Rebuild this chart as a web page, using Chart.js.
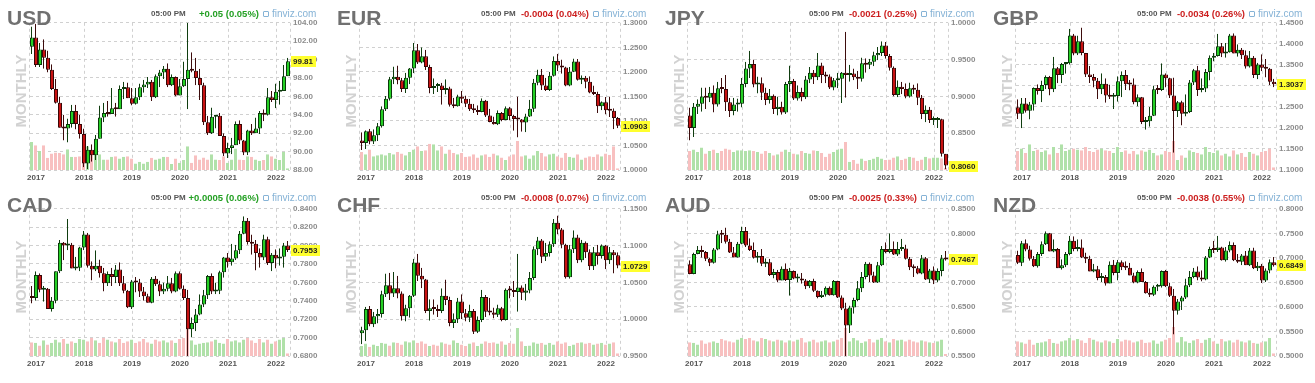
<!DOCTYPE html>
<html><head><meta charset="utf-8">
<script src="https://cdn.jsdelivr.net/npm/chart.js@4.4.1/dist/chart.umd.min.js"></script>
<style>
html,body{margin:0;padding:0;background:#fff;}
body{width:1315px;height:383px;overflow:hidden;position:relative;font-family:"Liberation Sans",Arial,sans-serif;}
.abs{position:absolute;white-space:nowrap;}
.tk{font-size:21px;font-weight:bold;color:#707070;line-height:21px;}
.mo{font-size:15px;font-weight:bold;color:#d2d2d2;line-height:15px;transform:translate(-50%,-50%) rotate(-90deg);}
.tm{font-size:8px;font-weight:bold;color:#555;line-height:10px;}
.ch{font-size:9.5px;font-weight:bold;line-height:11px;text-align:right;width:120px;}
.fv{font-size:10px;color:#86b3d6;line-height:12px;}
.ic{display:inline-block;width:4px;height:4px;border:1px solid #86b3d6;border-radius:1px;margin-right:3px;}
canvas{position:absolute;}
</style></head><body>
<script>
// ---- categories & tick labels ----
const months = ['2016-12',
'2017-01','2017-02','2017-03','2017-04','2017-05','2017-06','2017-07','2017-08','2017-09','2017-10','2017-11','2017-12',
'2018-01','2018-02','2018-03','2018-04','2018-05','2018-06','2018-07','2018-08','2018-09','2018-10','2018-11','2018-12',
'2019-01','2019-02','2019-03','2019-04','2019-05','2019-06','2019-07','2019-08','2019-09','2019-10','2019-11','2019-12',
'2020-01','2020-02','2020-03','2020-04','2020-05','2020-06','2020-07','2020-08','2020-09','2020-10','2020-11','2020-12',
'2021-01','2021-02','2021-03','2021-04','2021-05','2021-06','2021-07','2021-08','2021-09','2021-10','2021-11','2021-12',
'2022-01','2022-02','2022-03','2022-04'];
const yearLabels = ['2017','2018','2019','2020','2021','2022'];
const tickers = ['USD','EUR','JPY','GBP','CAD','CHF','AUD','NZD'];
const changeTexts = ['+0.05 (0.05%)','-0.0004 (0.04%)','-0.0021 (0.25%)','-0.0034 (0.26%)','+0.0005 (0.06%)','-0.0008 (0.07%)','-0.0025 (0.33%)','-0.0038 (0.55%)'];
const changeUp = [true,false,false,false,true,false,false,false];
const timeText = '05:00 PM';
const yMins = [88, 1.00, 0.80, 1.10, 0.68, 0.95, 0.55, 0.50];
const yMaxs = [104, 1.30, 1.00, 1.45, 0.84, 1.15, 0.85, 0.80];
const ySteps = [2, 0.05, 0.05, 0.05, 0.02, 0.05, 0.05, 0.05];
const yDecimals = [2,4,4,4,4,4,4,4];

// ---- series values: [open, high, low, close] per month ----
const usdOHLC = [[101.4,103.6,100.6,102.4],[102.4,103.9,99.2,99.4],[99.4,101.8,99.2,101.1],[101.1,102.2,99.0,100.2],[100.2,101.0,98.6,98.9],[98.9,99.5,96.7,96.8],[96.8,97.9,95.2,95.3],[95.3,96.0,92.6,92.6],[92.6,94.0,91.2,92.5],[92.5,93.6,91.0,93.0],
[93.0,95.1,92.6,94.4],[94.4,95.1,92.4,93.0],[93.0,94.0,91.4,91.9],[91.9,92.5,88.3,88.7],[88.7,90.6,88.1,90.2],[90.2,90.8,88.9,89.6],[89.6,91.8,89.1,91.4],[91.4,95.0,91.4,93.7],[93.7,95.3,93.2,94.2],[94.2,95.5,93.8,94.1],
[94.1,96.9,94.1,94.7],[94.7,95.3,93.8,94.6],[94.6,97.2,94.6,96.8],[96.8,97.6,95.7,97.0],[97.0,97.5,95.8,95.8],[95.8,96.9,95.0,95.2],[95.2,96.9,95.1,95.9],[95.9,97.4,95.6,97.0],[97.0,97.8,96.4,97.3],[97.3,98.1,96.9,97.6],
[97.6,97.8,95.5,95.9],[95.9,98.4,95.8,98.2],[98.2,98.9,97.0,98.6],[98.6,99.3,97.9,99.0],[99.0,99.6,97.0,97.2],[97.2,98.4,97.1,98.1],[98.1,98.2,96.0,96.1],[96.1,97.9,96.1,97.1],[97.1,99.8,97.0,97.9],[97.9,104.0,94.6,98.9],
[98.9,100.8,98.6,98.8],[98.8,100.2,97.2,98.0],[98.0,99.0,95.6,97.2],[97.2,97.5,92.9,93.2],[93.2,93.9,91.8,92.0],[92.0,94.8,91.9,93.8],[93.8,94.0,92.5,93.9],[93.9,94.2,91.7,91.7],[91.7,92.0,89.5,89.8],[89.8,91.0,89.3,90.4],
[90.4,91.5,89.7,90.7],[90.7,93.3,90.7,93.0],[93.0,93.4,90.8,91.2],[91.2,91.3,89.6,89.9],[89.9,92.4,89.6,92.3],[92.3,93.0,91.8,92.0],[92.0,93.7,92.0,92.5],[92.5,94.4,91.9,94.2],[94.2,94.6,93.3,94.0],[94.0,96.9,93.9,95.9],
[95.9,96.6,95.4,95.6],[95.6,97.4,94.7,96.5],[96.5,97.7,95.1,96.6],[96.6,99.4,96.6,98.2],[98.2,100.2,98.2,99.81]];
const usdVol = [85,75,58,75,37,50,53,52,48,63,40,40,42,68,72,58,48,48,32,32,40,42,35,40,42,35,20,25,20,25,37,32,35,40,40,18,35,22,30,72,22,45,32,38,32,48,32,30,42,22,32,65,32,30,42,40,32,28,30,48,42,35,30,55,5];

const eurOHLC = [[1.060,1.077,1.041,1.055],[1.055,1.081,1.043,1.079],[1.079,1.084,1.052,1.058],[1.058,1.083,1.053,1.071],[1.071,1.096,1.059,1.089],[1.089,1.130,1.086,1.124],[1.124,1.151,1.120,1.145],[1.145,1.190,1.141,1.185],[1.185,1.211,1.175,1.190],[1.190,1.213,1.174,1.183],
[1.183,1.188,1.159,1.165],[1.165,1.198,1.157,1.188],[1.188,1.208,1.175,1.207],[1.207,1.259,1.197,1.244],[1.244,1.257,1.216,1.219],[1.219,1.250,1.217,1.232],[1.232,1.245,1.204,1.210],[1.210,1.215,1.156,1.167],[1.167,1.187,1.155,1.171],[1.171,1.178,1.159,1.172],
[1.172,1.178,1.133,1.163],[1.163,1.185,1.154,1.166],[1.166,1.170,1.129,1.133],[1.133,1.147,1.126,1.130],[1.130,1.154,1.129,1.150],[1.150,1.161,1.136,1.145],[1.145,1.152,1.128,1.135],[1.135,1.145,1.120,1.124],[1.124,1.135,1.116,1.122],[1.122,1.132,1.112,1.118],
[1.118,1.146,1.117,1.141],[1.141,1.143,1.108,1.111],[1.111,1.125,1.097,1.098],[1.098,1.109,1.092,1.093],[1.093,1.122,1.091,1.116],[1.116,1.118,1.099,1.102],[1.102,1.130,1.101,1.126],[1.126,1.129,1.101,1.110],[1.110,1.113,1.080,1.104],[1.104,1.150,1.066,1.103],
[1.103,1.104,1.078,1.097],[1.097,1.115,1.077,1.109],[1.109,1.143,1.108,1.125],[1.125,1.186,1.118,1.178],[1.178,1.205,1.172,1.194],[1.194,1.206,1.163,1.172],[1.172,1.188,1.161,1.163],[1.163,1.200,1.161,1.192],[1.192,1.232,1.190,1.222],[1.222,1.237,1.202,1.213],
[1.213,1.225,1.196,1.209],[1.209,1.211,1.170,1.172],[1.172,1.210,1.170,1.200],[1.200,1.227,1.199,1.221],[1.221,1.226,1.182,1.184],[1.184,1.193,1.175,1.188],[1.188,1.192,1.166,1.180],[1.180,1.191,1.156,1.158],[1.158,1.172,1.153,1.155],[1.155,1.160,1.116,1.130],
[1.130,1.140,1.122,1.138],[1.138,1.149,1.113,1.122],[1.122,1.150,1.108,1.121],[1.121,1.126,1.083,1.106],[1.106,1.108,1.085,1.0903]];
const eurVol = [55,48,62,42,45,48,45,52,48,55,50,45,55,62,72,58,60,80,78,60,72,50,62,52,48,52,40,42,48,38,45,48,40,50,45,38,30,42,48,88,42,45,35,45,58,52,42,48,50,42,38,52,40,38,48,32,38,42,40,48,42,50,46,72,5];

const jpyOHLC = [[0.874,0.885,0.840,0.857],[0.857,0.891,0.845,0.886],[0.886,0.896,0.876,0.890],[0.890,0.912,0.879,0.900],[0.900,0.912,0.883,0.898],[0.898,0.913,0.892,0.905],[0.905,0.915,0.878,0.889],[0.889,0.920,0.886,0.911],[0.911,0.925,0.904,0.910],[0.910,0.929,0.880,0.892],
[0.892,0.898,0.872,0.880],[0.880,0.898,0.874,0.889],[0.889,0.897,0.879,0.890],[0.890,0.925,0.885,0.917],[0.917,0.947,0.912,0.938],[0.938,0.962,0.925,0.944],[0.944,0.950,0.912,0.916],[0.916,0.927,0.904,0.918],[0.918,0.926,0.895,0.905],[0.905,0.912,0.888,0.895],
[0.895,0.910,0.890,0.901],[0.901,0.903,0.876,0.883],[0.883,0.900,0.874,0.886],[0.886,0.893,0.875,0.878],[0.878,0.920,0.876,0.917],[0.917,0.942,0.906,0.921],[0.921,0.924,0.895,0.897],[0.897,0.915,0.894,0.906],[0.906,0.912,0.893,0.899],[0.899,0.928,0.896,0.923],
[0.923,0.940,0.918,0.932],[0.932,0.936,0.917,0.926],[0.926,0.959,0.922,0.942],[0.942,0.946,0.918,0.929],[0.929,0.934,0.918,0.927],[0.927,0.930,0.910,0.912],[0.912,0.925,0.908,0.922],[0.922,0.932,0.911,0.924],[0.924,0.933,0.891,0.932],[0.932,0.988,0.898,0.929],
[0.929,0.943,0.920,0.931],[0.931,0.938,0.922,0.926],[0.926,0.935,0.910,0.924],[0.924,0.953,0.920,0.945],[0.945,0.952,0.932,0.943],[0.943,0.951,0.937,0.947],[0.947,0.961,0.941,0.956],[0.956,0.967,0.949,0.959],[0.959,0.975,0.955,0.969],[0.969,0.974,0.951,0.955],
[0.955,0.958,0.935,0.939],[0.939,0.941,0.900,0.902],[0.902,0.922,0.899,0.913],[0.913,0.920,0.903,0.910],[0.910,0.918,0.897,0.900],[0.900,0.919,0.898,0.911],[0.911,0.916,0.903,0.909],[0.909,0.918,0.888,0.898],[0.898,0.902,0.869,0.876],[0.876,0.888,0.865,0.882],
[0.882,0.886,0.864,0.868],[0.868,0.873,0.861,0.868],[0.868,0.872,0.857,0.869],[0.869,0.870,0.818,0.822],[0.822,0.822,0.801,0.806]];
const jpyVol = [58,62,55,68,50,58,62,52,58,65,62,55,60,60,58,60,58,55,50,58,52,45,48,56,62,55,50,48,58,52,50,60,58,52,40,50,55,62,65,85,25,30,20,35,28,30,35,40,35,30,32,38,42,30,35,40,38,28,32,40,36,38,38,36,6];

const gbpOHLC = [[1.249,1.268,1.221,1.234],[1.234,1.271,1.199,1.258],[1.258,1.271,1.236,1.241],[1.241,1.262,1.220,1.256],[1.256,1.297,1.241,1.295],[1.295,1.304,1.279,1.288],[1.288,1.313,1.261,1.302],[1.302,1.325,1.292,1.321],[1.321,1.324,1.277,1.292],[1.292,1.369,1.285,1.342],
[1.342,1.345,1.306,1.326],[1.326,1.355,1.306,1.352],[1.352,1.355,1.329,1.354],[1.354,1.436,1.350,1.420],[1.420,1.424,1.372,1.377],[1.377,1.420,1.373,1.406],[1.406,1.439,1.372,1.378],[1.378,1.379,1.321,1.327],[1.327,1.347,1.307,1.321],[1.321,1.329,1.296,1.312],
[1.312,1.319,1.269,1.292],[1.292,1.330,1.280,1.305],[1.305,1.318,1.260,1.277],[1.277,1.303,1.269,1.274],[1.274,1.283,1.245,1.276],[1.276,1.323,1.262,1.311],[1.311,1.335,1.273,1.326],[1.326,1.338,1.290,1.304],[1.304,1.314,1.289,1.303],[1.303,1.318,1.256,1.261],
[1.261,1.280,1.251,1.273],[1.273,1.274,1.209,1.214],[1.214,1.226,1.196,1.216],[1.216,1.250,1.203,1.229],[1.229,1.301,1.228,1.292],[1.292,1.302,1.280,1.290],[1.290,1.354,1.287,1.327],[1.327,1.330,1.296,1.318],[1.318,1.320,1.271,1.277],[1.277,1.320,1.141,1.240],
[1.240,1.264,1.226,1.261],[1.261,1.265,1.206,1.234],[1.234,1.280,1.227,1.238],[1.238,1.314,1.235,1.308],[1.308,1.341,1.302,1.337],[1.337,1.348,1.276,1.290],[1.290,1.318,1.284,1.294],[1.294,1.340,1.285,1.333],[1.333,1.373,1.313,1.367],[1.367,1.378,1.358,1.371],
[1.371,1.424,1.369,1.394],[1.394,1.402,1.368,1.377],[1.377,1.402,1.367,1.380],[1.380,1.424,1.379,1.420],[1.420,1.425,1.378,1.377],[1.377,1.399,1.369,1.386],[1.386,1.390,1.364,1.373],[1.373,1.385,1.341,1.346],[1.346,1.383,1.343,1.367],[1.367,1.371,1.319,1.326],
[1.326,1.355,1.316,1.351],[1.351,1.375,1.335,1.343],[1.343,1.364,1.320,1.341],[1.341,1.343,1.302,1.310],[1.310,1.317,1.297,1.3037]];
const gbpVol = [58,65,52,78,58,62,55,60,48,70,52,78,58,62,65,62,60,70,58,55,62,65,60,58,52,70,55,60,50,58,48,60,56,62,52,45,48,58,55,88,30,45,38,60,55,52,48,70,55,52,60,45,50,42,60,48,52,40,55,50,45,55,58,65,8];

const cadOHLC = [[0.744,0.756,0.737,0.743],[0.743,0.772,0.740,0.768],[0.768,0.770,0.749,0.752],[0.752,0.756,0.739,0.753],[0.753,0.754,0.731,0.731],[0.731,0.744,0.728,0.740],[0.740,0.772,0.737,0.772],[0.772,0.806,0.770,0.803],[0.803,0.804,0.784,0.800],[0.800,0.829,0.795,0.801],
[0.801,0.803,0.775,0.775],[0.775,0.788,0.773,0.776],[0.776,0.799,0.772,0.798],[0.798,0.816,0.795,0.812],[0.812,0.814,0.776,0.778],[0.778,0.783,0.762,0.774],[0.774,0.795,0.772,0.778],[0.778,0.785,0.765,0.770],[0.770,0.776,0.750,0.759],[0.759,0.772,0.756,0.769],
[0.769,0.776,0.756,0.766],[0.766,0.779,0.759,0.774],[0.774,0.782,0.756,0.759],[0.759,0.767,0.748,0.751],[0.751,0.752,0.732,0.733],[0.733,0.763,0.731,0.761],[0.761,0.766,0.749,0.760],[0.760,0.764,0.744,0.750],[0.750,0.755,0.740,0.745],[0.745,0.748,0.738,0.738],
[0.738,0.766,0.737,0.764],[0.764,0.767,0.756,0.758],[0.758,0.762,0.745,0.750],[0.750,0.760,0.747,0.753],[0.753,0.767,0.750,0.759],[0.759,0.765,0.748,0.750],[0.750,0.772,0.749,0.770],[0.770,0.772,0.752,0.753],[0.753,0.757,0.741,0.743],[0.743,0.752,0.680,0.709],
[0.709,0.722,0.700,0.716],[0.716,0.731,0.707,0.725],[0.725,0.747,0.724,0.736],[0.736,0.752,0.733,0.746],[0.746,0.768,0.742,0.767],[0.767,0.770,0.747,0.750],[0.750,0.760,0.747,0.751],[0.751,0.773,0.747,0.771],[0.771,0.788,0.765,0.787],[0.787,0.792,0.776,0.782],
[0.782,0.802,0.778,0.786],[0.786,0.801,0.784,0.795],[0.795,0.816,0.791,0.813],[0.813,0.832,0.812,0.827],[0.827,0.830,0.801,0.804],[0.804,0.812,0.790,0.802],[0.802,0.806,0.773,0.792],[0.792,0.797,0.776,0.787],[0.787,0.812,0.784,0.807],[0.807,0.810,0.779,0.781],
[0.781,0.792,0.772,0.790],[0.790,0.796,0.775,0.786],[0.786,0.797,0.778,0.788],[0.788,0.803,0.776,0.800],[0.800,0.805,0.793,0.7953]];
const cadVol = [42,40,32,48,35,40,50,42,52,38,45,40,52,50,45,55,48,40,55,50,45,42,52,40,45,50,40,45,52,42,38,50,45,48,42,48,40,52,55,82,48,35,38,40,42,45,50,40,38,52,45,48,42,50,55,48,40,52,42,50,38,45,50,55,8];

const chfOHLC = [[0.981,0.990,0.966,0.985],[0.985,1.017,0.970,1.014],[1.014,1.018,0.990,0.993],[0.993,1.010,0.989,1.004],[1.004,1.014,0.994,1.007],[1.007,1.039,1.002,1.034],[1.034,1.062,1.030,1.046],[1.046,1.063,1.026,1.035],[1.035,1.064,1.030,1.042],[1.042,1.059,1.028,1.035],
[1.035,1.038,0.998,1.004],[1.004,1.020,0.997,1.015],[1.015,1.033,1.002,1.032],[1.032,1.082,1.030,1.077],[1.077,1.089,1.052,1.059],[1.059,1.070,1.042,1.054],[1.054,1.055,1.008,1.011],[1.011,1.027,0.998,1.015],[1.015,1.027,1.006,1.014],[1.014,1.020,1.003,1.011],
[1.011,1.042,1.008,1.032],[1.032,1.054,1.019,1.026],[1.026,1.031,0.990,0.995],[0.995,1.008,0.988,1.000],[1.000,1.029,0.995,1.024],[1.024,1.034,1.000,1.008],[1.008,1.014,0.997,1.002],[1.002,1.020,0.996,1.011],[1.011,1.014,0.980,0.983],[0.983,1.004,0.981,0.999],
[0.999,1.040,0.996,1.030],[1.030,1.033,1.003,1.010],[1.010,1.029,1.005,1.009],[1.009,1.016,1.001,1.006],[1.006,1.020,1.003,1.015],[1.015,1.017,0.997,0.999],[0.999,1.042,0.998,1.040],[1.040,1.045,1.028,1.039],[1.039,1.052,1.030,1.037],[1.037,1.089,1.010,1.043],
[1.043,1.046,1.026,1.036],[1.036,1.048,1.025,1.039],[1.039,1.064,1.035,1.056],[1.056,1.099,1.053,1.095],[1.095,1.112,1.087,1.107],[1.107,1.109,1.076,1.085],[1.085,1.104,1.079,1.090],[1.090,1.106,1.085,1.102],[1.102,1.136,1.098,1.131],[1.131,1.141,1.115,1.122],
[1.122,1.124,1.096,1.101],[1.101,1.103,1.055,1.057],[1.057,1.101,1.055,1.095],[1.095,1.121,1.090,1.111],[1.111,1.115,1.076,1.080],[1.080,1.108,1.077,1.104],[1.104,1.106,1.083,1.091],[1.091,1.095,1.067,1.072],[1.072,1.098,1.067,1.091],[1.091,1.101,1.074,1.086],
[1.086,1.102,1.082,1.100],[1.100,1.101,1.068,1.080],[1.080,1.098,1.075,1.091],[1.091,1.094,1.062,1.087],[1.087,1.091,1.069,1.0729]];
const chfVol = [30,38,28,35,30,40,38,32,42,40,35,45,42,48,40,45,38,30,35,32,42,38,35,48,40,35,30,38,42,30,38,45,40,42,38,45,35,40,38,85,45,30,32,42,38,40,35,40,35,45,38,42,30,35,40,42,38,40,35,38,40,35,38,42,8];

const audOHLC = [[0.737,0.745,0.716,0.717],[0.717,0.761,0.716,0.758],[0.758,0.774,0.757,0.766],[0.766,0.775,0.750,0.762],[0.762,0.764,0.743,0.748],[0.748,0.751,0.733,0.740],[0.740,0.770,0.738,0.767],[0.767,0.806,0.765,0.798],[0.798,0.807,0.780,0.797],[0.797,0.812,0.779,0.783],
[0.783,0.789,0.760,0.761],[0.761,0.772,0.751,0.751],[0.751,0.783,0.750,0.779],[0.779,0.814,0.777,0.805],[0.805,0.813,0.772,0.775],[0.775,0.790,0.764,0.766],[0.766,0.782,0.748,0.750],[0.750,0.762,0.740,0.754],[0.754,0.768,0.733,0.738],[0.738,0.749,0.731,0.741],
[0.741,0.748,0.713,0.715],[0.715,0.728,0.708,0.721],[0.721,0.726,0.700,0.704],[0.704,0.733,0.704,0.728],[0.728,0.739,0.703,0.705],[0.705,0.730,0.673,0.723],[0.723,0.725,0.706,0.708],[0.708,0.718,0.700,0.708],[0.708,0.719,0.697,0.704],[0.704,0.707,0.686,0.692],
[0.692,0.705,0.688,0.703],[0.703,0.708,0.680,0.683],[0.683,0.684,0.667,0.670],[0.670,0.683,0.668,0.675],[0.675,0.692,0.671,0.689],[0.689,0.692,0.673,0.674],[0.674,0.705,0.673,0.703],[0.703,0.704,0.668,0.669],[0.669,0.674,0.643,0.647],[0.647,0.659,0.550,0.612],
[0.612,0.653,0.597,0.649],[0.649,0.669,0.636,0.664],[0.664,0.703,0.661,0.688],[0.688,0.721,0.680,0.711],[0.711,0.742,0.706,0.738],[0.738,0.741,0.701,0.714],[0.714,0.722,0.699,0.700],[0.700,0.742,0.699,0.735],[0.735,0.774,0.733,0.768],[0.768,0.782,0.759,0.762],
[0.762,0.800,0.759,0.768],[0.768,0.784,0.756,0.757],[0.757,0.783,0.754,0.768],[0.768,0.789,0.764,0.769],[0.769,0.777,0.746,0.748],[0.748,0.752,0.725,0.731],[0.731,0.737,0.711,0.729],[0.729,0.734,0.716,0.718],[0.718,0.756,0.716,0.749],[0.749,0.752,0.705,0.706],
[0.706,0.728,0.699,0.724],[0.724,0.733,0.696,0.704],[0.704,0.729,0.700,0.723],[0.723,0.756,0.712,0.749],[0.749,0.764,0.744,0.7467]];
const audVol = [42,40,35,48,38,42,45,40,52,48,45,42,50,55,52,55,48,45,55,52,48,45,50,48,42,48,45,50,55,42,45,50,42,45,48,42,45,50,55,85,45,55,48,40,45,52,42,50,55,45,42,52,48,50,45,50,45,42,48,45,42,40,45,50,6];

const nzdOHLC = [[0.706,0.715,0.687,0.690],[0.690,0.735,0.683,0.730],[0.730,0.738,0.713,0.717],[0.717,0.725,0.694,0.698],[0.698,0.704,0.681,0.683],[0.683,0.712,0.680,0.708],[0.708,0.734,0.704,0.728],[0.728,0.754,0.726,0.750],[0.750,0.751,0.715,0.713],[0.713,0.738,0.711,0.718],
[0.718,0.720,0.680,0.679],[0.679,0.697,0.676,0.685],[0.685,0.712,0.681,0.708],[0.708,0.745,0.705,0.735],[0.735,0.744,0.713,0.718],[0.718,0.738,0.713,0.721],[0.721,0.738,0.699,0.701],[0.701,0.711,0.689,0.698],[0.698,0.705,0.673,0.672],[0.672,0.688,0.670,0.677],
[0.677,0.684,0.654,0.659],[0.659,0.669,0.651,0.661],[0.661,0.665,0.643,0.648],[0.648,0.693,0.648,0.686],[0.686,0.696,0.664,0.669],[0.669,0.696,0.654,0.691],[0.691,0.695,0.675,0.681],[0.681,0.693,0.675,0.680],[0.680,0.690,0.664,0.664],[0.664,0.670,0.648,0.650],
[0.650,0.675,0.648,0.671],[0.671,0.679,0.654,0.651],[0.651,0.653,0.627,0.628],[0.628,0.638,0.620,0.625],[0.625,0.644,0.622,0.641],[0.641,0.647,0.632,0.642],[0.642,0.675,0.639,0.673],[0.673,0.676,0.640,0.642],[0.642,0.650,0.620,0.623],[0.623,0.637,0.544,0.592],
[0.592,0.616,0.584,0.611],[0.611,0.623,0.594,0.619],[0.619,0.658,0.616,0.644],[0.644,0.673,0.640,0.661],[0.661,0.680,0.658,0.672],[0.672,0.683,0.654,0.660],[0.660,0.675,0.652,0.656],[0.656,0.704,0.654,0.701],[0.701,0.723,0.699,0.718],[0.718,0.735,0.710,0.716],
[0.716,0.745,0.712,0.721],[0.721,0.723,0.694,0.695],[0.695,0.722,0.692,0.715],[0.715,0.734,0.711,0.726],[0.726,0.732,0.693,0.695],[0.695,0.708,0.689,0.692],[0.692,0.708,0.685,0.705],[0.705,0.714,0.686,0.685],[0.685,0.720,0.683,0.715],[0.715,0.721,0.677,0.679],
[0.679,0.692,0.673,0.684],[0.684,0.688,0.649,0.654],[0.654,0.679,0.651,0.674],[0.674,0.697,0.668,0.691],[0.691,0.702,0.682,0.6849]];
const nzdVol = [45,42,38,50,35,40,42,45,52,40,38,45,48,55,48,52,48,40,55,50,45,42,48,45,40,52,45,50,48,42,45,50,40,42,48,38,45,50,55,88,42,58,45,40,48,52,40,50,55,45,38,52,45,48,42,50,45,42,48,40,38,42,45,55,8];

const ohlcList = [usdOHLC, eurOHLC, jpyOHLC, gbpOHLC, cadOHLC, chfOHLC, audOHLC, nzdOHLC];
const volList = [usdVol, eurVol, jpyVol, gbpVol, cadVol, chfVol, audVol, nzdVol];

// ---- layout ----
const panelX = [0, 330, 658, 986];
const panelY = [0, 186];
const headerY = [14, 198];
const FONT = '"Liberation Sans", Arial, sans-serif';
Chart.defaults.font.family = FONT;

const framePlugin = {
  id: 'frame',
  beforeDatasetsDraw(chart) {
    const {ctx, chartArea: a} = chart;
    ctx.save();
    ctx.strokeStyle = '#d0d0d0'; ctx.lineWidth = 1; ctx.setLineDash([3, 3]);
    ctx.beginPath();
    ctx.moveTo(Math.round(a.left) - 0.5, a.top); ctx.lineTo(Math.round(a.left) - 0.5, a.bottom);
    ctx.moveTo(Math.round(a.right) + 0.5, a.top); ctx.lineTo(Math.round(a.right) + 0.5, a.bottom);
    ctx.stroke();
    ctx.restore();
  }
};
const pricePlugin = {
  id: 'price',
  afterDraw(chart, args, opts) {
    const {ctx, chartArea: a} = chart;
    const y = chart.scales.y.getPixelForValue(opts.value);
    ctx.save();
    ctx.font = 'bold 8px ' + FONT;
    const w = Math.ceil(ctx.measureText(opts.text).width) + 4;
    const x = Math.round(a.right) + 1;
    ctx.fillStyle = '#ffff2e';
    ctx.fillRect(x, Math.round(y) - 5, w, 11);
    ctx.fillStyle = '#222';
    ctx.textBaseline = 'middle';
    ctx.fillText(opts.text, x + 2, Math.round(y) + 0.5);
    ctx.restore();
  }
};

function addDiv(cls, text, left, top, color) {
  const d = document.createElement('div');
  d.className = 'abs ' + cls;
  d.textContent = text;
  d.style.left = left + 'px';
  d.style.top = top + 'px';
  if (color) d.style.color = color;
  document.body.appendChild(d);
  return d;
}

tickers.forEach((name, k) => {
  const row = Math.floor(k / 4), col = k % 4;
  const px = panelX[col], py = panelY[row], hy = headerY[row];

  const cv = document.createElement('canvas');
  cv.width = 310; cv.height = 169;
  cv.style.left = (px + 20) + 'px';
  cv.style.top = (py + 15) + 'px';
  document.body.appendChild(cv);

  addDiv('tk', name, px + 7, py + 7 + row);
  addDiv('mo', 'MONTHLY', px + 20, py + 90.5);
  addDiv('tm', timeText, px + 151, hy - 5);
  addDiv('ch', changeTexts[k], px + 259 - 120, hy - 6, changeUp[k] ? '#24a024' : '#cc1f1f');
  const fv = document.createElement('div');
  fv.className = 'abs fv';
  fv.style.left = (px + 263) + 'px';
  fv.style.top = (hy - 6) + 'px';
  const ic = document.createElement('span'); ic.className = 'ic';
  fv.appendChild(ic);
  fv.appendChild(document.createTextNode('finviz.com'));
  document.body.appendChild(fv);

  const ohlc = ohlcList[k];
  const up = ohlc.map(d => d[3] >= d[0]);
  const bodies = ohlc.map(d => [d[0], d[3]]);
  const wicks = ohlc.map(d => [Math.min(d[2], d[0], d[3]), Math.max(d[1], d[0], d[3])]);
  const dec = yDecimals[k];
  const last = ohlc[ohlc.length - 1][3];
  const clear = 'rgba(0,0,0,0)';

  new Chart(cv, {
    type: 'bar',
    data: {
      labels: months,
      datasets: [
        {data: bodies, yAxisID: 'y', grouped: false, barThickness: 4, inflateAmount: 0,
         backgroundColor: up.map(u => u ? '#25d025' : '#c81212'),
         borderColor: up.map(u => u ? '#0c3a0c' : '#3a0707'),
         borderWidth: 1, borderSkipped: false, minBarLength: 2, order: 0},
        {data: wicks, yAxisID: 'y', grouped: false, barThickness: 2, inflateAmount: 0,
         backgroundColor: clear,
         borderColor: up.map(u => u ? '#0f3d0f' : '#3d0c0c'),
         borderWidth: {left: 1, right: 0, top: 0, bottom: 0}, borderSkipped: false, order: 1},
        {data: volList[k], yAxisID: 'yv', grouped: false, barThickness: 4, inflateAmount: 0,
         backgroundColor: up.map(u => u ? '#b0e1a9' : '#f8c0c0'),
         borderColor: clear,
         borderWidth: {left: 0, right: 1, top: 0, bottom: 0}, borderSkipped: false, order: 2}
      ]
    },
    options: {
      responsive: false, animation: false, events: [],
      layout: {padding: {left: 10, top: 6, right: 0, bottom: 0}},
      plugins: {legend: {display: false}, tooltip: {enabled: false},
                price: {value: last, text: last.toFixed(dec)}},
      scales: {
        x: {
          type: 'category', offset: true,
          grid: {offset: false, drawTicks: false, lineWidth: 1,
                 color: c => (c.tick && c.tick.label && c.tick.label !== '2017') ? '#d0d0d0' : clear},
          border: {display: false, dash: [3, 3]},
          ticks: {autoSkip: false, maxRotation: 0, minRotation: 0, padding: 3,
                  font: {size: 8, weight: 'bold'}, color: '#555',
                  callback: (v, i) => {
                    const m = months[i]; const yr = m.slice(0, 4);
                    return (m.slice(5) === '01' && yearLabels.includes(yr)) ? yr : '';
                  }},
          afterFit: s => { s.height = 14; }
        },
        y: {
          position: 'right', min: yMins[k], max: yMaxs[k],
          grid: {color: '#d0d0d0', drawTicks: false, lineWidth: 1},
          border: {display: false, dash: [3, 3]},
          ticks: {stepSize: ySteps[k], padding: 3, font: {size: 8, weight: 'bold'}, color: '#8c8c8c',
                  callback: v => Number(v).toFixed(dec)},
          afterFit: s => { s.width = 40; }
        },
        yv: {display: false, min: 0, max: 447}
      }
    },
    plugins: [framePlugin, pricePlugin]
  });
});
</script>
</body></html>
